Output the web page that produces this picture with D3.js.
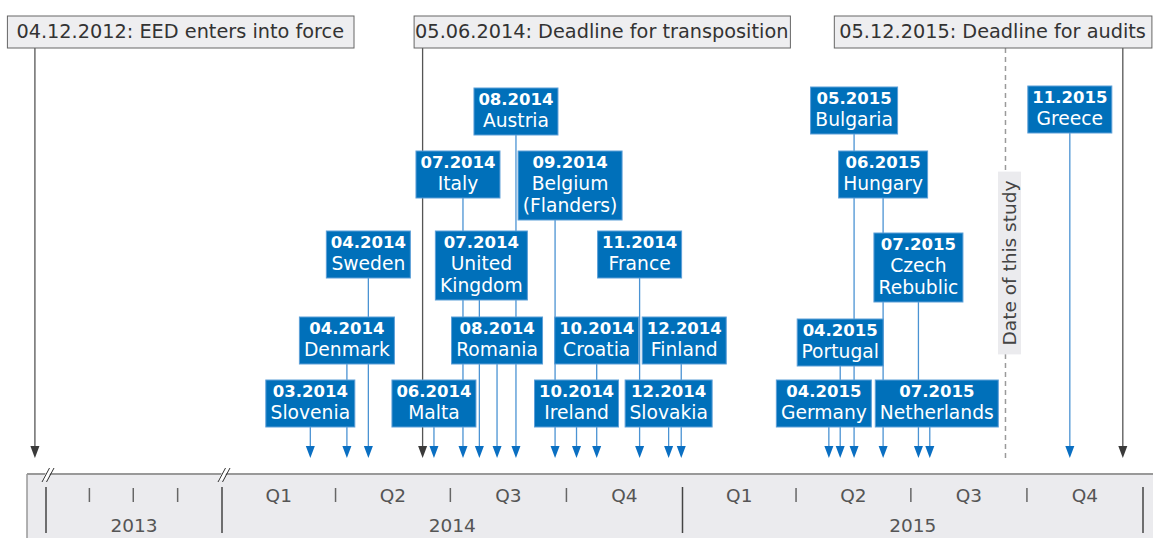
<!DOCTYPE html>
<html>
<head>
<meta charset="utf-8">
<script src="https://cdn.jsdelivr.net/npm/d3@7"></script>
<style>
body { margin: 0; background: #fff; }
svg { display: block; font-family: "DejaVu Sans", Verdana, sans-serif; }
</style>
</head>
<body>
<div id="chart"></div>
<script>
// transposition dates per member state
const countries = ["Slovenia", "Denmark", "Sweden", "Malta", "Italy", "United\nKingdom", "Romania", "Austria",
    "Belgium\n(Flanders)", "Ireland", "Croatia", "France", "Slovakia", "Finland",
    "Germany", "Portugal", "Bulgaria", "Hungary", "Czech\nRebublic", "Netherlands", "Greece"];
const monthLabels = ["03.2014", "04.2014", "04.2014", "06.2014", "07.2014", "07.2014", "08.2014", "08.2014",
    "09.2014", "10.2014", "10.2014", "11.2014", "12.2014", "12.2014",
    "04.2015", "04.2015", "05.2015", "06.2015", "07.2015", "07.2015", "11.2015"];
// where the arrows sit on the axis
const arrowDates = ["2014-03-12", "2014-04-10", "2014-04-27", "2014-06-18", "2014-07-11", "2014-07-24", "2014-08-07", "2014-08-22",
    "2014-09-22", "2014-10-09", "2014-10-25", "2014-11-28", "2014-12-21", "2014-12-31",
    "2015-04-27", "2015-05-06", "2015-05-17", "2015-06-09", "2015-07-07", "2015-07-16", "2015-11-04"];

const milestoneLabels = ["04.12.2012: EED enters into force", "05.06.2014: Deadline for transposition", "05.12.2015: Deadline for audits"];
const milestoneDates = ["2012-12-09", "2014-06-09", "2015-12-16"];

const studyLabel = "Date of this study";
const studyDate = "2015-09-14";

const years = ["2013", "2014", "2015"];
const quarterLabels = ["Q1", "Q2", "Q3", "Q4"];

const W = 1153, H = 538;
const parse = d3.timeParse("%Y-%m-%d");

// 2013 is squeezed, 2014-2015 full width
let x = d3.scaleTime()
    .domain([new Date(2013, 0, 1), new Date(2014, 0, 1), new Date(2016, 0, 1)])
    .range([46, 222, 1143]);

// box layout: [row, dx, dy]
const rowTop = [87, 151, 231, 317, 380];
const layout = {
    "Slovenia": [4, 0, 0], "Denmark": [3, 0, 0], "Sweden": [2, 0, 0], "Malta": [4, 0, 0],
    "Italy": [1, -5, 0], "United\nKingdom": [2, 2, 0], "Romania": [3, 0, 0], "Austria": [0, 0, 1],
    "Belgium\n(Flanders)": [1, 15, 0], "Ireland": [4, 0, 0], "Croatia": [3, 0, 0], "France": [2, 0, 0],
    "Slovakia": [4, 0, 0], "Finland": [3, 3, 0], "Germany": [4, -5, 0], "Portugal": [3, 0, 2],
    "Bulgaria": [0, 0, 0], "Hungary": [1, 0, 0], "Czech\nRebublic": [2, 0, 2], "Netherlands": [4, 7, 0],
    "Greece": [0, 0, -1]
};

const blue = "#0070ba", lineBlue = "#4b93d3", dark = "#3a3a3a";
const tipY = 458, headH = 12;

let svg = d3.select("#chart").append("svg")
    .attr("width", W)
    .attr("height", H);

let events = countries.map((c, i) => {
    let lines = c.split("\n");
    let l = layout[c];
    return {
        lines: lines,
        month: monthLabels[i],
        x: x(parse(arrowDates[i])),
        top: rowTop[l[0]] + l[2],
        dx: l[1],
        h: lines.length > 1 ? 69 : 47
    };
});

let arrowHead = (cx) => `M${cx - 4.5},${tipY - headH} L${cx + 4.5},${tipY - headH} L${cx},${tipY} Z`;

// milestone lines
let ms = milestoneLabels.map((t, i) => ({ label: t, x: x(parse(milestoneDates[i])) }));
svg.selectAll("line.ms").data(ms).enter().append("line")
    .attr("class", "ms")
    .attr("x1", d => d.x).attr("x2", d => d.x)
    .attr("y1", 48).attr("y2", tipY - headH + 1)
    .attr("stroke", "#555").attr("stroke-width", 1.3);
svg.selectAll("path.ms").data(ms).enter().append("path")
    .attr("class", "ms")
    .attr("d", d => arrowHead(d.x))
    .attr("fill", dark);

// study date
let sx = x(parse(studyDate));
svg.append("line")
    .attr("x1", sx).attr("x2", sx)
    .attr("y1", 48).attr("y2", tipY)
    .attr("stroke", "#9a9a9a").attr("stroke-width", 1.5)
    .attr("stroke-dasharray", "5,4");

// connector lines + arrowheads
svg.selectAll("line.conn").data(events).enter().append("line")
    .attr("class", "conn")
    .attr("x1", d => d.x).attr("x2", d => d.x)
    .attr("y1", d => d.top + d.h).attr("y2", tipY - headH + 1)
    .attr("stroke", lineBlue).attr("stroke-width", 1.3);
svg.selectAll("path.conn").data(events).enter().append("path")
    .attr("class", "conn")
    .attr("d", d => arrowHead(d.x))
    .attr("fill", "#0a6fc2");

// country boxes
let boxes = svg.selectAll("g.box").data(events).enter().append("g")
    .attr("class", "box")
    .attr("transform", d => `translate(${d.x + d.dx}, ${d.top})`);

boxes.append("rect")
    .attr("y", 0)
    .attr("height", d => d.h)
    .attr("fill", blue)
    .attr("stroke", "#5d9fd8")
    .attr("stroke-width", 1);

let labels = boxes.append("text")
    .attr("text-anchor", "middle")
    .attr("fill", "white");
labels.append("tspan")
    .attr("x", 0).attr("y", 17)
    .attr("font-weight", "bold")
    .attr("font-size", "16.5px")
    .text(d => d.month);
labels.each(function(d) {
    let t = d3.select(this);
    d.lines.forEach((ln, j) => {
        t.append("tspan")
            .attr("x", 0).attr("y", 39 + j * 22)
            .attr("font-size", "18.7px")
            .text(ln);
    });
});
boxes.each(function(d) {
    let g = d3.select(this);
    let wmax = 0;
    g.selectAll("tspan").each(function() { wmax = Math.max(wmax, this.getComputedTextLength()); });
    let w = Math.round(wmax + 9);
    g.select("rect").attr("x", -w / 2).attr("width", w);
});

// study label
let sg = svg.append("g").attr("transform", `translate(${sx + 4}, 263)`);
let st = sg.append("text")
    .attr("transform", "rotate(-90)")
    .attr("text-anchor", "middle")
    .attr("dy", "0.35em")
    .attr("font-size", "18.5px")
    .attr("fill", "#444")
    .text(studyLabel);
let slen = st.node().getComputedTextLength();
sg.insert("rect", "text")
    .attr("x", -11.5).attr("width", 23)
    .attr("y", -slen / 2 - 9).attr("height", slen + 18)
    .attr("fill", "#ebebee");

// milestone boxes
const msLeft = [-28, -9, -289];
const msPad = [9.5, 1.5, 5.5];
let mg = svg.selectAll("g.msbox").data(ms).enter().append("g")
    .attr("class", "msbox")
    .attr("transform", (d, i) => `translate(${d.x + msLeft[i]}, 16)`);
mg.append("rect")
    .attr("y", 0).attr("height", 32)
    .attr("fill", "#eeeef0")
    .attr("stroke", "#666").attr("stroke-width", 1);
mg.append("text")
    .attr("x", (d, i) => msPad[i]).attr("y", 22)
    .attr("font-size", "19.3px")
    .attr("fill", "#333")
    .text(d => d.label);
mg.each(function(d, i) {
    let g = d3.select(this);
    let w = g.select("text").node().getComputedTextLength();
    g.select("rect").attr("x", 0.5).attr("width", w + 2 * msPad[i]);
});

// axis band
let axisY = 474;
svg.append("rect")
    .attr("x", 27).attr("y", axisY)
    .attr("width", W - 27 + 5).attr("height", H - axisY + 5)
    .attr("fill", "#ebebee");
svg.append("line")
    .attr("x1", 27).attr("x2", W)
    .attr("y1", axisY).attr("y2", axisY)
    .attr("stroke", "#999").attr("stroke-width", 2);
svg.append("line")
    .attr("x1", 27).attr("x2", 27)
    .attr("y1", axisY).attr("y2", H)
    .attr("stroke", "#999").attr("stroke-width", 1.5);

let yearStarts = d3.timeYears(new Date(2013, 0, 1), new Date(2016, 0, 2));
let quarterStarts = d3.timeMonths(new Date(2013, 0, 1), new Date(2016, 0, 1), 3)
    .filter(d => d.getMonth() !== 0);

svg.selectAll("line.year").data(yearStarts).enter().append("line")
    .attr("class", "year")
    .attr("x1", d => x(d)).attr("x2", d => x(d))
    .attr("y1", 487).attr("y2", 533)
    .attr("stroke", "#444").attr("stroke-width", 1.5);
svg.selectAll("line.quarter").data(quarterStarts).enter().append("line")
    .attr("class", "quarter")
    .attr("x1", d => x(d)).attr("x2", d => x(d))
    .attr("y1", 488).attr("y2", 502)
    .attr("stroke", "#666").attr("stroke-width", 1.5);

// quarter labels for the full-width years
let qData = [];
years.slice(1).forEach(y => {
    quarterLabels.forEach((q, i) => {
        let a = new Date(+y, i * 3, 1), b = new Date(+y, i * 3 + 3, 1);
        qData.push({ label: q, x: (x(a) + x(b)) / 2 });
    });
});
svg.selectAll("text.q").data(qData).enter().append("text")
    .attr("class", "q")
    .attr("x", d => d.x).attr("y", 502)
    .attr("text-anchor", "middle")
    .attr("font-size", "18.5px")
    .attr("fill", "#555")
    .text(d => d.label);

svg.selectAll("text.yr").data(years).enter().append("text")
    .attr("class", "yr")
    .attr("x", d => (x(new Date(+d, 0, 1)) + x(new Date(+d + 1, 0, 1))) / 2)
    .attr("y", 532)
    .attr("text-anchor", "middle")
    .attr("font-size", "18.5px")
    .attr("fill", "#555")
    .text(d => d);

// break marks
[new Date(2013, 0, 1), new Date(2014, 0, 1)].forEach(d => {
    let bx = x(d);
    svg.append("path")
        .attr("d", `M${bx - 4},${axisY + 6} L${bx + 2.5},${axisY - 6} L${bx + 7},${axisY - 6} L${bx + 0.5},${axisY + 6} Z`)
        .attr("fill", "white");
    [-4, 0.5].forEach(o => {
        svg.append("line")
            .attr("x1", bx + o).attr("y1", axisY + 8)
            .attr("x2", bx + o + 7.5).attr("y2", axisY - 6)
            .attr("stroke", "#333").attr("stroke-width", 1);
    });
});
</script>
</body>
</html>
